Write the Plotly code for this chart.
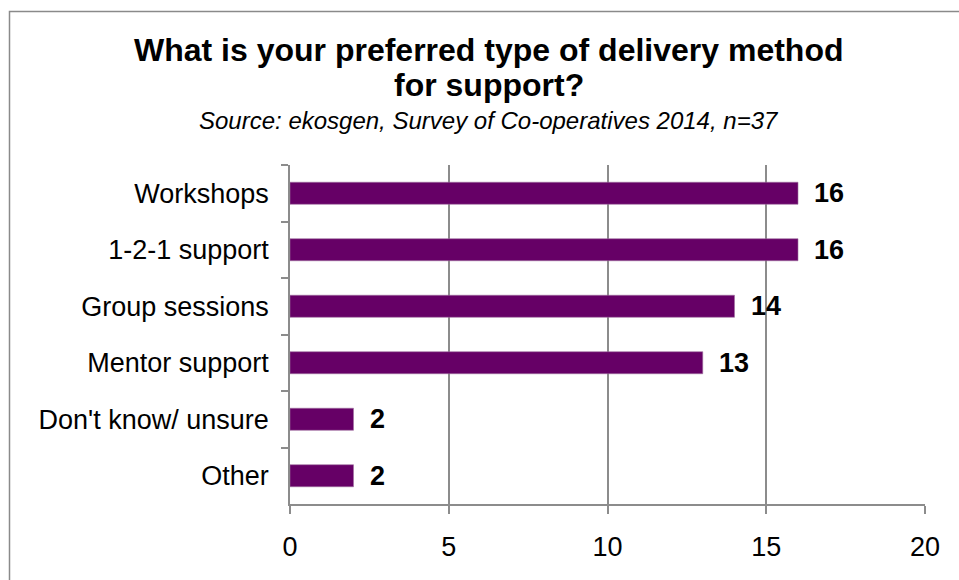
import plotly.graph_objects as go

# Survey responses: preferred delivery method for support
categories = ["Workshops", "1-2-1 support", "Group sessions", "Mentor support",
              "Don't know/ unsure", "Other"]
responses = [16, 16, 14, 13, 2, 2]
x_ticks = [0, 5, 10, 15, 20]

title_lines = ["What is your preferred type of delivery method", "for support?"]
subtitle = "Source: ekosgen, Survey of Co-operatives 2014, n=37"

W, H = 959, 580
L, R, T, B = 290, 34, 165, 76
PW, PH = W - L - R, H - T - B

FONT = "Liberation Sans, Arial, Helvetica, sans-serif"
BAR = "#660066"
GRID = "#8c8c8c"


def px_x(p):
    return (p - L) / PW


def px_y(p):
    return 1 - (p - T) / PH


fig = go.Figure()
fig.add_trace(go.Bar(
    y=categories, x=responses, orientation="h",
    marker=dict(color=BAR, line=dict(color="#a070a0", width=0.6)),
    hoverinfo="x+y", showlegend=False,
))

# value labels next to each bar
for cat, val in zip(categories, responses):
    fig.add_annotation(x=val, y=cat, xref="x", yref="y", text=f"<b>{val}</b>",
                       showarrow=False, xanchor="left", yanchor="middle",
                       xshift=14, font=dict(family=FONT, size=27, color="#000"))

# title and source line
fig.add_annotation(x=px_x(488.5), y=px_y(50.5), xref="paper", yref="paper",
                   text=f"<b>{title_lines[0]}</b>", showarrow=False,
                   xanchor="center", yanchor="middle",
                   font=dict(family=FONT, size=32, color="#000"))
fig.add_annotation(x=px_x(488.5), y=px_y(85.5), xref="paper", yref="paper",
                   text=f"<b>{title_lines[1]}</b>", showarrow=False,
                   xanchor="center", yanchor="middle",
                   font=dict(family=FONT, size=32, color="#000"))
fig.add_annotation(x=px_x(488.5), y=px_y(120), xref="paper", yref="paper",
                   text=f"<i>{subtitle}</i>", showarrow=False,
                   xanchor="center", yanchor="middle",
                   font=dict(family=FONT, size=24, color="#000"))

# chart frame
fig.add_shape(type="rect", xref="paper", yref="paper",
              x0=px_x(9.5), x1=px_x(975), y0=px_y(600), y1=px_y(11.5),
              line=dict(color="#8a8a8a", width=1.5), fillcolor="rgba(0,0,0,0)",
              layer="below")

fig.update_layout(
    width=W, height=H,
    margin=dict(l=L, r=R, t=T, b=B, pad=0),
    paper_bgcolor="white", plot_bgcolor="white",
    bargap=0.61,
    font=dict(family=FONT, size=27, color="#000"),
    xaxis=dict(range=[0, 20], tickvals=x_ticks, ticktext=[str(v) for v in x_ticks],
               showgrid=True, gridcolor=GRID, gridwidth=1.5,
               showline=True, linecolor=GRID, linewidth=1.5,
               ticks="outside", ticklen=8, tickcolor=GRID, tickwidth=1.5,
               ticklabelstandoff=10, zeroline=False,
               tickfont=dict(family=FONT, size=27, color="#000")),
    yaxis=dict(autorange="reversed", type="category",
               showgrid=False, showline=True, linecolor=GRID, linewidth=1.5,
               ticks="outside", ticklen=7, tickcolor=GRID, tickwidth=1.5,
               tickson="boundaries", ticklabelstandoff=14,
               tickfont=dict(family=FONT, size=27, color="#000")),
)

fig.write_html("out.html")
